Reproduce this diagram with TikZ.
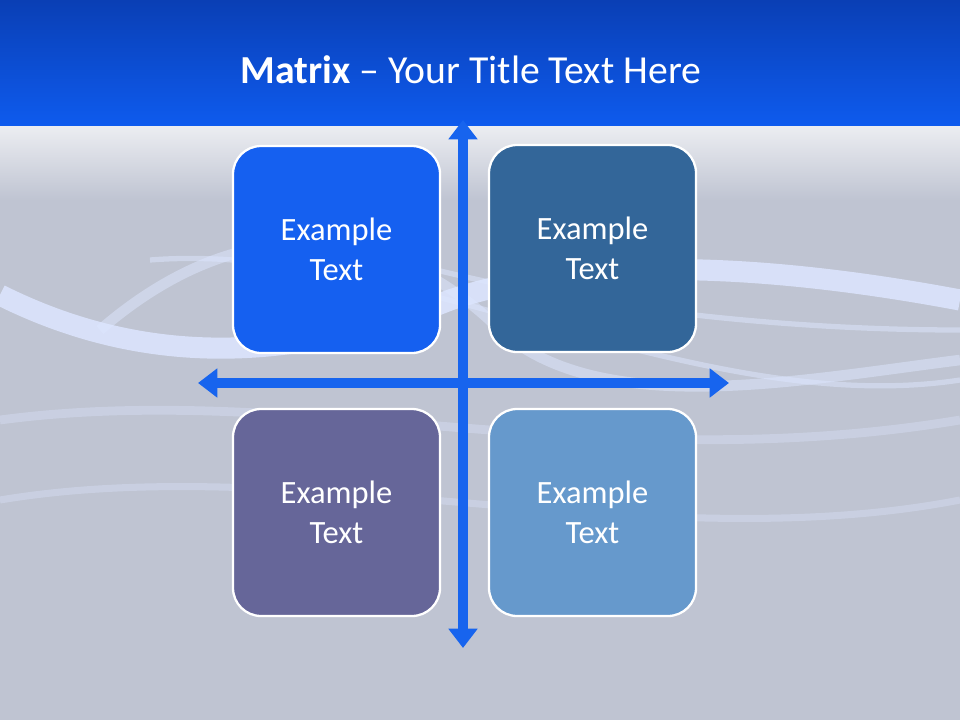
\documentclass[tikz,border=0pt]{standalone}
\usepackage{fontspec}
\setmainfont{Carlito}
\usetikzlibrary{arrows.meta}
\definecolor{topblue}{HTML}{0A3FB5}
\definecolor{midblue}{HTML}{0E5BEE}
\definecolor{bggray}{HTML}{BFC4D2}
\definecolor{arrowblue}{HTML}{1764EE}
\definecolor{ribbonc}{HTML}{DDE6FF}
\definecolor{cA}{HTML}{1560F0}
\definecolor{cB}{HTML}{336699}
\definecolor{cC}{HTML}{666699}
\definecolor{cD}{HTML}{6699CC}
\tikzset{
  box/.style={draw=white,line width=1.3pt,rounded corners=16pt,minimum width=207*0.02cm,minimum height=207*0.02cm,text=white,align=center,font=\fontsize{18.5}{23}\selectfont},
  axis/.style={arrowblue,line width=5.5pt,-{Triangle[width=16pt,length=11pt]}},
  ribbon/.style={line width=#1,ribbonc,opacity=0.5}
}
\begin{document}
\begin{tikzpicture}[x=0.02cm,y=-0.02cm]
\useasboundingbox (0,0) rectangle (960,720);
\fill[bggray] (0,0) rectangle (960,720);
\shade[top color=topblue,bottom color=midblue] (0,0) rectangle (960,126);
\shade[top color=white!70!bggray,bottom color=bggray] (0,126) rectangle (960,200);
% ribbons
\draw[ribbon=12pt,opacity=0.85] (0,295) .. controls (150,370) and (300,360) .. (450,300) .. controls (600,250) and (800,270) .. (960,300);
\draw[ribbon=6pt] (100,330) .. controls (250,200) and (400,230) .. (500,330) .. controls (600,420) and (800,380) .. (960,360);
\draw[ribbon=5pt,opacity=0.35] (0,420) .. controls (300,380) and (600,480) .. (960,420);
\draw[ribbon=4pt,opacity=0.35] (0,500) .. controls (300,450) and (650,560) .. (960,500);
\draw[ribbon=3pt] (150,260) .. controls (400,240) and (700,420) .. (960,380);
\draw[ribbon=3pt] (300,230) .. controls (500,300) and (750,330) .. (960,330);
% title
\node[text=white,font=\fontsize{22.6}{27}\selectfont] (title) at (471,70) {\textbf{Matrix} – Your Title Text Here};
% axes
\coordinate (vt) at (463,120);
\coordinate (vb) at (463,648);
\coordinate (hl) at (198,383);
\coordinate (hr) at (729,383);
\coordinate (c) at (463,383);
\draw[axis] (c) -- (vt);
\draw[axis] (c) -- (vb);
\draw[axis] (c) -- (hl);
\draw[axis] (c) -- (hr);
% boxes
\node[box,fill=cA] (b1) at (336.5,249.5) {Example\\Text};
\node[box,fill=cB] (b2) at (592.5,248.5) {Example\\Text};
\node[box,fill=cC] (b3) at (336.5,512.5) {Example\\Text};
\node[box,fill=cD] (b4) at (592.5,512.5) {Example\\Text};
\end{tikzpicture}
\end{document}
